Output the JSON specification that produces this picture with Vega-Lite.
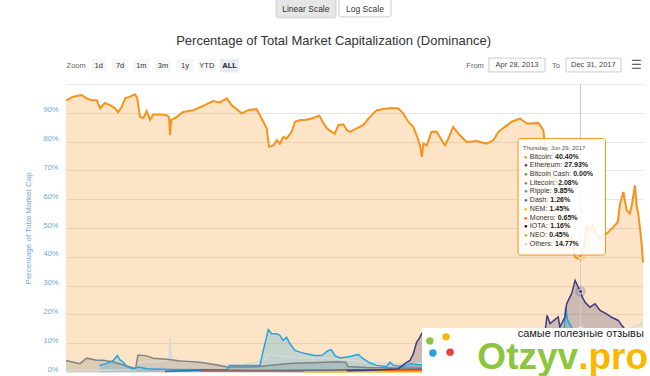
{
  "$schema": "https://vega.github.io/schema/vega-lite/v6.json",
  "width": 577,
  "height": 288,
  "autosize": {"type": "none"},
  "padding": {"left": 66, "top": 84, "right": 7, "bottom": 4},
  "background": "white",
  "resolve": {"axis": {"y": "independent"}},
  "config": {
    "view": {"stroke": null},
    "font": "Liberation Sans, Arial, sans-serif",
    "axisY": {"labelColor": "#6fa7e0", "labelFontSize": 7.5, "labelPadding": 8, "labelOffset": -3,
              "titleColor": "#6fa7e0", "titleFontSize": 8, "titleFontWeight": "normal", "titlePadding": 10,
              "domain": false, "ticks": false, "gridColor": "#e6e6e6", "gridWidth": 1,
              "labelOverlap": false}
  },
  "datasets": {
    "series": [
      {"d":"2013-04-28","s":"Bitcoin","v":94.2},{"d":"2013-05-19","s":"Bitcoin","v":95.6},{"d":"2013-06-13","s":"Bitcoin","v":96.2},{"d":"2013-06-28","s":"Bitcoin","v":95.0},{"d":"2013-07-13","s":"Bitcoin","v":94.4},{"d":"2013-07-28","s":"Bitcoin","v":94.4},{"d":"2013-08-07","s":"Bitcoin","v":91.6},{"d":"2013-08-21","s":"Bitcoin","v":93.4},{"d":"2013-09-05","s":"Bitcoin","v":92.7},{"d":"2013-09-20","s":"Bitcoin","v":91.6},{"d":"2013-09-29","s":"Bitcoin","v":90.2},{"d":"2013-10-10","s":"Bitcoin","v":92.1},{"d":"2013-10-20","s":"Bitcoin","v":95.0},{"d":"2013-11-03","s":"Bitcoin","v":95.6},{"d":"2013-11-18","s":"Bitcoin","v":96.4},{"d":"2013-11-25","s":"Bitcoin","v":95.1},{"d":"2013-12-03","s":"Bitcoin","v":88.6},{"d":"2013-12-13","s":"Bitcoin","v":88.2},{"d":"2013-12-23","s":"Bitcoin","v":90.6},{"d":"2014-01-02","s":"Bitcoin","v":87.5},{"d":"2014-01-11","s":"Bitcoin","v":89.4},{"d":"2014-01-31","s":"Bitcoin","v":89.4},{"d":"2014-02-20","s":"Bitcoin","v":89.2},{"d":"2014-02-27","s":"Bitcoin","v":88.5},{"d":"2014-03-02","s":"Bitcoin","v":82.2},{"d":"2014-03-05","s":"Bitcoin","v":87.5},{"d":"2014-03-22","s":"Bitcoin","v":88.6},{"d":"2014-04-10","s":"Bitcoin","v":90.3},{"d":"2014-05-10","s":"Bitcoin","v":90.9},{"d":"2014-06-08","s":"Bitcoin","v":92.4},{"d":"2014-07-08","s":"Bitcoin","v":94.1},{"d":"2014-07-28","s":"Bitcoin","v":93.6},{"d":"2014-08-17","s":"Bitcoin","v":95.0},{"d":"2014-08-31","s":"Bitcoin","v":92.7},{"d":"2014-09-30","s":"Bitcoin","v":89.8},{"d":"2014-10-20","s":"Bitcoin","v":90.9},{"d":"2014-11-13","s":"Bitcoin","v":91.3},{"d":"2014-11-23","s":"Bitcoin","v":89.2},{"d":"2014-12-03","s":"Bitcoin","v":86.9},{"d":"2014-12-13","s":"Bitcoin","v":84.6},{"d":"2014-12-20","s":"Bitcoin","v":78.2},{"d":"2015-01-02","s":"Bitcoin","v":78.7},{"d":"2015-01-12","s":"Bitcoin","v":80.5},{"d":"2015-01-21","s":"Bitcoin","v":79.3},{"d":"2015-01-31","s":"Bitcoin","v":81.6},{"d":"2015-02-10","s":"Bitcoin","v":81.1},{"d":"2015-02-25","s":"Bitcoin","v":83.4},{"d":"2015-03-07","s":"Bitcoin","v":86.9},{"d":"2015-03-22","s":"Bitcoin","v":87.5},{"d":"2015-04-05","s":"Bitcoin","v":87.5},{"d":"2015-04-25","s":"Bitcoin","v":88.0},{"d":"2015-05-18","s":"Bitcoin","v":89.0},{"d":"2015-05-25","s":"Bitcoin","v":87.5},{"d":"2015-06-09","s":"Bitcoin","v":84.6},{"d":"2015-06-23","s":"Bitcoin","v":83.4},{"d":"2015-07-03","s":"Bitcoin","v":82.8},{"d":"2015-07-13","s":"Bitcoin","v":85.7},{"d":"2015-07-28","s":"Bitcoin","v":86.0},{"d":"2015-08-07","s":"Bitcoin","v":84.0},{"d":"2015-08-17","s":"Bitcoin","v":83.4},{"d":"2015-09-05","s":"Bitcoin","v":84.6},{"d":"2015-09-25","s":"Bitcoin","v":85.7},{"d":"2015-10-10","s":"Bitcoin","v":88.0},{"d":"2015-10-25","s":"Bitcoin","v":89.8},{"d":"2015-11-04","s":"Bitcoin","v":90.9},{"d":"2015-11-23","s":"Bitcoin","v":91.3},{"d":"2015-12-18","s":"Bitcoin","v":91.7},{"d":"2016-01-07","s":"Bitcoin","v":91.5},{"d":"2016-01-21","s":"Bitcoin","v":89.8},{"d":"2016-02-05","s":"Bitcoin","v":86.9},{"d":"2016-02-20","s":"Bitcoin","v":85.1},{"d":"2016-03-01","s":"Bitcoin","v":82.2},{"d":"2016-03-11","s":"Bitcoin","v":78.7},{"d":"2016-03-16","s":"Bitcoin","v":74.7},{"d":"2016-03-21","s":"Bitcoin","v":79.3},{"d":"2016-03-31","s":"Bitcoin","v":78.7},{"d":"2016-04-14","s":"Bitcoin","v":83.4},{"d":"2016-04-29","s":"Bitcoin","v":83.5},{"d":"2016-05-14","s":"Bitcoin","v":80.5},{"d":"2016-05-24","s":"Bitcoin","v":78.7},{"d":"2016-06-03","s":"Bitcoin","v":81.1},{"d":"2016-06-17","s":"Bitcoin","v":85.1},{"d":"2016-07-07","s":"Bitcoin","v":82.2},{"d":"2016-07-27","s":"Bitcoin","v":79.9},{"d":"2016-08-26","s":"Bitcoin","v":80.2},{"d":"2016-09-24","s":"Bitcoin","v":79.3},{"d":"2016-10-14","s":"Bitcoin","v":80.5},{"d":"2016-10-29","s":"Bitcoin","v":83.4},{"d":"2016-11-17","s":"Bitcoin","v":85.1},{"d":"2016-12-07","s":"Bitcoin","v":86.9},{"d":"2017-01-01","s":"Bitcoin","v":88.0},{"d":"2017-01-21","s":"Bitcoin","v":86.3},{"d":"2017-02-04","s":"Bitcoin","v":86.3},{"d":"2017-02-24","s":"Bitcoin","v":86.5},{"d":"2017-03-01","s":"Bitcoin","v":85.7},{"d":"2017-03-11","s":"Bitcoin","v":84.0},{"d":"2017-03-16","s":"Bitcoin","v":78.2},{"d":"2017-03-22","s":"Bitcoin","v":72.0},{"d":"2017-04-01","s":"Bitcoin","v":68.0},{"d":"2017-04-15","s":"Bitcoin","v":67.0},{"d":"2017-04-28","s":"Bitcoin","v":65.0},{"d":"2017-05-10","s":"Bitcoin","v":58.0},{"d":"2017-05-17","s":"Bitcoin","v":50.0},{"d":"2017-05-25","s":"Bitcoin","v":46.0},{"d":"2017-06-03","s":"Bitcoin","v":47.0},{"d":"2017-06-13","s":"Bitcoin","v":40.0},{"d":"2017-06-20","s":"Bitcoin","v":39.5},{"d":"2017-06-29","s":"Bitcoin","v":40.4},{"d":"2017-07-10","s":"Bitcoin","v":44.0},{"d":"2017-07-17","s":"Bitcoin","v":50.3},{"d":"2017-07-27","s":"Bitcoin","v":49.0},{"d":"2017-08-05","s":"Bitcoin","v":51.0},{"d":"2017-08-15","s":"Bitcoin","v":48.0},{"d":"2017-08-26","s":"Bitcoin","v":46.0},{"d":"2017-09-05","s":"Bitcoin","v":48.0},{"d":"2017-09-14","s":"Bitcoin","v":48.0},{"d":"2017-10-04","s":"Bitcoin","v":50.3},{"d":"2017-10-17","s":"Bitcoin","v":52.0},{"d":"2017-10-24","s":"Bitcoin","v":58.4},{"d":"2017-11-03","s":"Bitcoin","v":62.5},{"d":"2017-11-08","s":"Bitcoin","v":59.0},{"d":"2017-11-13","s":"Bitcoin","v":56.1},{"d":"2017-11-22","s":"Bitcoin","v":55.0},{"d":"2017-11-28","s":"Bitcoin","v":58.0},{"d":"2017-12-07","s":"Bitcoin","v":64.8},{"d":"2017-12-12","s":"Bitcoin","v":58.0},{"d":"2017-12-17","s":"Bitcoin","v":55.0},{"d":"2017-12-22","s":"Bitcoin","v":50.0},{"d":"2017-12-27","s":"Bitcoin","v":44.5},{"d":"2017-12-31","s":"Bitcoin","v":38.0},

      {"d":"2013-04-28","s":"Others","v":0.5},{"d":"2013-11-20","s":"Others","v":0.7},{"d":"2013-11-28","s":"Others","v":3.3},{"d":"2014-01-10","s":"Others","v":3.5},{"d":"2014-02-10","s":"Others","v":3.8},{"d":"2014-02-27","s":"Others","v":4.3},{"d":"2014-03-02","s":"Others","v":12.0},{"d":"2014-03-06","s":"Others","v":4.5},{"d":"2014-04-10","s":"Others","v":3.6},{"d":"2014-06-01","s":"Others","v":3.3},{"d":"2014-08-01","s":"Others","v":2.5},{"d":"2014-10-01","s":"Others","v":2.3},{"d":"2014-11-20","s":"Others","v":3.8},{"d":"2014-12-10","s":"Others","v":4.5},{"d":"2014-12-20","s":"Others","v":6.3},{"d":"2015-01-05","s":"Others","v":5.7},{"d":"2015-03-01","s":"Others","v":5.0},{"d":"2015-06-01","s":"Others","v":4.9},{"d":"2015-08-01","s":"Others","v":4.3},{"d":"2015-10-01","s":"Others","v":3.4},{"d":"2015-12-01","s":"Others","v":3.0},{"d":"2016-02-01","s":"Others","v":2.8},{"d":"2016-06-01","s":"Others","v":3.5},{"d":"2016-12-01","s":"Others","v":3.0},{"d":"2017-03-01","s":"Others","v":5.0},{"d":"2017-05-01","s":"Others","v":10.0},{"d":"2017-06-29","s":"Others","v":14.77},{"d":"2017-09-01","s":"Others","v":15.0},{"d":"2017-11-01","s":"Others","v":14.0},{"d":"2017-12-31","s":"Others","v":17.0},

      {"d":"2013-04-28","s":"Litecoin","v":4.0},{"d":"2013-06-08","s":"Litecoin","v":2.9},{"d":"2013-06-28","s":"Litecoin","v":4.8},{"d":"2013-07-28","s":"Litecoin","v":4.1},{"d":"2013-08-16","s":"Litecoin","v":4.1},{"d":"2013-09-15","s":"Litecoin","v":3.5},{"d":"2013-10-25","s":"Litecoin","v":2.1},{"d":"2013-11-20","s":"Litecoin","v":1.2},{"d":"2013-11-27","s":"Litecoin","v":5.9},{"d":"2013-12-23","s":"Litecoin","v":5.6},{"d":"2014-01-11","s":"Litecoin","v":4.8},{"d":"2014-02-20","s":"Litecoin","v":4.4},{"d":"2014-03-31","s":"Litecoin","v":3.8},{"d":"2014-05-10","s":"Litecoin","v":3.6},{"d":"2014-06-08","s":"Litecoin","v":3.2},{"d":"2014-07-18","s":"Litecoin","v":2.4},{"d":"2014-08-17","s":"Litecoin","v":1.7},{"d":"2014-10-15","s":"Litecoin","v":1.7},{"d":"2014-11-15","s":"Litecoin","v":1.8},{"d":"2015-01-10","s":"Litecoin","v":2.5},{"d":"2015-03-01","s":"Litecoin","v":3.0},{"d":"2015-05-01","s":"Litecoin","v":3.2},{"d":"2015-07-10","s":"Litecoin","v":3.6},{"d":"2015-08-05","s":"Litecoin","v":3.3},{"d":"2015-08-10","s":"Litecoin","v":1.9},{"d":"2015-10-01","s":"Litecoin","v":1.6},{"d":"2016-01-01","s":"Litecoin","v":1.4},{"d":"2016-04-01","s":"Litecoin","v":1.3},{"d":"2016-07-01","s":"Litecoin","v":1.3},{"d":"2016-10-01","s":"Litecoin","v":1.5},{"d":"2017-01-01","s":"Litecoin","v":1.8},{"d":"2017-03-15","s":"Litecoin","v":2.3},{"d":"2017-05-01","s":"Litecoin","v":3.5},{"d":"2017-06-29","s":"Litecoin","v":2.08},{"d":"2017-09-01","s":"Litecoin","v":3.0},{"d":"2017-11-01","s":"Litecoin","v":2.0},{"d":"2017-12-15","s":"Litecoin","v":3.1},{"d":"2017-12-31","s":"Litecoin","v":2.5},

      {"d":"2013-08-05","s":"Ripple","v":2.3},{"d":"2013-08-26","s":"Ripple","v":2.9},{"d":"2013-09-15","s":"Ripple","v":4.0},{"d":"2013-09-27","s":"Ripple","v":5.7},{"d":"2013-10-05","s":"Ripple","v":4.2},{"d":"2013-10-15","s":"Ripple","v":3.4},{"d":"2013-10-25","s":"Ripple","v":1.9},{"d":"2013-11-13","s":"Ripple","v":1.1},{"d":"2013-11-28","s":"Ripple","v":1.7},{"d":"2013-12-23","s":"Ripple","v":1.1},{"d":"2014-03-01","s":"Ripple","v":0.9},{"d":"2014-08-17","s":"Ripple","v":0.8},{"d":"2014-08-26","s":"Ripple","v":2.3},{"d":"2014-11-23","s":"Ripple","v":2.3},{"d":"2014-12-03","s":"Ripple","v":7.5},{"d":"2014-12-18","s":"Ripple","v":14.7},{"d":"2014-12-28","s":"Ripple","v":13.3},{"d":"2015-01-12","s":"Ripple","v":13.3},{"d":"2015-01-21","s":"Ripple","v":12.7},{"d":"2015-01-31","s":"Ripple","v":11.0},{"d":"2015-02-10","s":"Ripple","v":12.1},{"d":"2015-02-20","s":"Ripple","v":9.8},{"d":"2015-03-07","s":"Ripple","v":7.5},{"d":"2015-03-22","s":"Ripple","v":6.9},{"d":"2015-04-10","s":"Ripple","v":6.3},{"d":"2015-05-05","s":"Ripple","v":5.7},{"d":"2015-05-25","s":"Ripple","v":5.7},{"d":"2015-06-13","s":"Ripple","v":7.5},{"d":"2015-06-23","s":"Ripple","v":7.7},{"d":"2015-07-03","s":"Ripple","v":5.7},{"d":"2015-07-18","s":"Ripple","v":4.9},{"d":"2015-08-17","s":"Ripple","v":5.4},{"d":"2015-09-10","s":"Ripple","v":6.1},{"d":"2015-09-25","s":"Ripple","v":4.6},{"d":"2015-10-15","s":"Ripple","v":3.1},{"d":"2015-11-04","s":"Ripple","v":2.3},{"d":"2015-12-03","s":"Ripple","v":1.9},{"d":"2015-12-13","s":"Ripple","v":3.4},{"d":"2015-12-23","s":"Ripple","v":2.3},{"d":"2016-01-21","s":"Ripple","v":1.9},{"d":"2016-02-10","s":"Ripple","v":2.9},{"d":"2016-04-01","s":"Ripple","v":2.3},{"d":"2016-07-01","s":"Ripple","v":2.0},{"d":"2016-10-01","s":"Ripple","v":1.8},{"d":"2017-01-01","s":"Ripple","v":1.3},{"d":"2017-03-20","s":"Ripple","v":3.5},{"d":"2017-04-05","s":"Ripple","v":8.0},{"d":"2017-04-25","s":"Ripple","v":6.0},{"d":"2017-05-10","s":"Ripple","v":12.0},{"d":"2017-05-16","s":"Ripple","v":22.5},{"d":"2017-05-22","s":"Ripple","v":18.0},{"d":"2017-06-05","s":"Ripple","v":15.0},{"d":"2017-06-29","s":"Ripple","v":9.85},{"d":"2017-08-01","s":"Ripple","v":8.5},{"d":"2017-09-10","s":"Ripple","v":6.8},{"d":"2017-10-15","s":"Ripple","v":7.0},{"d":"2017-11-15","s":"Ripple","v":5.5},{"d":"2017-12-20","s":"Ripple","v":9.0},{"d":"2017-12-31","s":"Ripple","v":12.0},

      {"d":"2014-02-15","s":"Dash","v":0.2},{"d":"2014-06-01","s":"Dash","v":0.7},{"d":"2014-12-01","s":"Dash","v":0.5},{"d":"2015-06-01","s":"Dash","v":0.6},{"d":"2015-09-01","s":"Dash","v":0.8},{"d":"2016-01-01","s":"Dash","v":0.6},{"d":"2016-03-01","s":"Dash","v":0.9},{"d":"2016-06-01","s":"Dash","v":0.8},{"d":"2016-12-01","s":"Dash","v":0.6},{"d":"2017-03-20","s":"Dash","v":1.5},{"d":"2017-06-29","s":"Dash","v":1.26},{"d":"2017-09-01","s":"Dash","v":1.7},{"d":"2017-12-31","s":"Dash","v":1.5},

      {"d":"2014-06-01","s":"Monero","v":0.3},{"d":"2015-06-01","s":"Monero","v":0.2},{"d":"2016-09-01","s":"Monero","v":0.8},{"d":"2017-01-01","s":"Monero","v":1.1},{"d":"2017-06-29","s":"Monero","v":0.65},{"d":"2017-12-31","s":"Monero","v":0.9},

      {"d":"2015-04-01","s":"NEM","v":0.05},{"d":"2016-06-01","s":"NEM","v":0.1},{"d":"2017-03-01","s":"NEM","v":0.4},{"d":"2017-06-29","s":"NEM","v":1.45},{"d":"2017-12-31","s":"NEM","v":1.4},

      {"d":"2017-06-13","s":"IOTA","v":0.8},{"d":"2017-06-29","s":"IOTA","v":1.16},{"d":"2017-12-31","s":"IOTA","v":1.5},

      {"d":"2017-06-01","s":"NEO","v":0.1},{"d":"2017-06-29","s":"NEO","v":0.45},{"d":"2017-12-31","s":"NEO","v":0.6},

      {"d":"2017-06-29","s":"Bitcoin Cash","v":0.0},{"d":"2017-07-31","s":"Bitcoin Cash","v":0.0},{"d":"2017-08-02","s":"Bitcoin Cash","v":4.5},{"d":"2017-08-20","s":"Bitcoin Cash","v":6.5},{"d":"2017-09-15","s":"Bitcoin Cash","v":5.0},{"d":"2017-11-12","s":"Bitcoin Cash","v":12.0},{"d":"2017-11-20","s":"Bitcoin Cash","v":8.0},{"d":"2017-12-20","s":"Bitcoin Cash","v":9.0},{"d":"2017-12-31","s":"Bitcoin Cash","v":7.5},

      {"d":"2015-08-08","s":"Ethereum","v":0.4},{"d":"2015-10-15","s":"Ethereum","v":0.6},{"d":"2016-01-05","s":"Ethereum","v":1.0},{"d":"2016-01-26","s":"Ethereum","v":2.9},{"d":"2016-02-10","s":"Ethereum","v":4.0},{"d":"2016-02-20","s":"Ethereum","v":6.3},{"d":"2016-03-01","s":"Ethereum","v":10.4},{"d":"2016-03-08","s":"Ethereum","v":11.5},{"d":"2016-03-16","s":"Ethereum","v":13.3},{"d":"2016-04-01","s":"Ethereum","v":11.0},{"d":"2016-05-01","s":"Ethereum","v":8.5},{"d":"2016-06-15","s":"Ethereum","v":14.0},{"d":"2016-06-22","s":"Ethereum","v":10.5},{"d":"2016-07-25","s":"Ethereum","v":12.0},{"d":"2016-09-01","s":"Ethereum","v":9.0},{"d":"2016-11-01","s":"Ethereum","v":6.0},{"d":"2017-01-01","s":"Ethereum","v":5.5},{"d":"2017-02-15","s":"Ethereum","v":6.0},{"d":"2017-03-05","s":"Ethereum","v":8.0},{"d":"2017-03-14","s":"Ethereum","v":12.0},{"d":"2017-03-22","s":"Ethereum","v":19.7},{"d":"2017-03-31","s":"Ethereum","v":16.8},{"d":"2017-04-24","s":"Ethereum","v":19.1},{"d":"2017-04-29","s":"Ethereum","v":15.6},{"d":"2017-05-14","s":"Ethereum","v":19.1},{"d":"2017-05-19","s":"Ethereum","v":23.7},{"d":"2017-06-03","s":"Ethereum","v":27.3},{"d":"2017-06-13","s":"Ethereum","v":31.8},{"d":"2017-06-22","s":"Ethereum","v":29.5},{"d":"2017-06-29","s":"Ethereum","v":27.93},{"d":"2017-07-02","s":"Ethereum","v":26.6},{"d":"2017-07-12","s":"Ethereum","v":24.3},{"d":"2017-07-27","s":"Ethereum","v":22.5},{"d":"2017-08-11","s":"Ethereum","v":23.7},{"d":"2017-08-26","s":"Ethereum","v":21.4},{"d":"2017-09-14","s":"Ethereum","v":20.2},{"d":"2017-09-29","s":"Ethereum","v":19.0},{"d":"2017-10-19","s":"Ethereum","v":17.9},{"d":"2017-10-29","s":"Ethereum","v":16.2},{"d":"2017-11-20","s":"Ethereum","v":13.0},{"d":"2017-12-10","s":"Ethereum","v":9.5},{"d":"2017-12-31","s":"Ethereum","v":12.0}
    ],
    "tip": [
      {"s":"Bitcoin","val":40.40},{"s":"Ethereum","val":27.93},{"s":"Bitcoin Cash","val":0.00},{"s":"Litecoin","val":2.08},{"s":"Ripple","val":9.85},{"s":"Dash","val":1.26},{"s":"NEM","val":1.45},{"s":"Monero","val":0.65},{"s":"IOTA","val":1.16},{"s":"NEO","val":0.45},{"s":"Others","val":14.77}
    ],
    "one": [{}]
  },
  "layer": [
    {
      "data": {"name": "series"},
      "transform": [{"filter": "datum.s === 'Bitcoin'"}],
      "mark": {"type": "area", "color": "#f7931a", "fillOpacity": 0.25},
      "encoding": {
        "x": {"field": "d", "type": "temporal", "axis": null,
              "scale": {"domain": [{"year": 2013, "month": 4, "date": 28}, {"year": 2017, "month": 12, "date": 31}]}},
        "y": {"field": "v", "type": "quantitative", "stack": null,
              "scale": {"domain": [0, 100], "nice": false},
              "axis": {"title": "Percentage of Total Market Cap", "values": [0,10,20,30,40,50,60,70,80,90,100],
                       "labelExpr": "datum.value >= 100 ? '' : datum.value + '%'"}}
      }
    },
    {
      "data": {"name": "series"},
      "transform": [{"filter": "datum.s === 'Bitcoin'"}],
      "mark": {"type": "line", "color": "#f7931a", "strokeWidth": 2},
      "encoding": {
        "x": {"field": "d", "type": "temporal", "axis": null},
        "y": {"field": "v", "type": "quantitative", "axis": null}
      }
    },
    {
      "data": {"name": "series"},
      "transform": [{"filter": "datum.s !== 'Bitcoin'"}],
      "mark": {"type": "area", "fillOpacity": 0.25},
      "encoding": {
        "x": {"field": "d", "type": "temporal", "axis": null},
        "y": {"field": "v", "type": "quantitative", "stack": null, "axis": null},
        "color": {"field": "s", "type": "nominal", "legend": null,
                  "scale": {"domain": ["Bitcoin","Ethereum","Bitcoin Cash","Litecoin","Ripple","Dash","NEM","Monero","IOTA","NEO","Others"],
                            "range": ["#f7931a","#3c3c7d","#3aa53a","#838383","#27a3dd","#1c75bc","#f5c000","#ff6000","#000000","#88d018","#d9d9d9"]}}
      }
    },
    {
      "data": {"name": "series"},
      "transform": [{"filter": "datum.s !== 'Bitcoin'"}],
      "mark": {"type": "line", "strokeWidth": 1.5},
      "encoding": {
        "x": {"field": "d", "type": "temporal", "axis": null},
        "y": {"field": "v", "type": "quantitative", "axis": null},
        "color": {"field": "s", "type": "nominal", "legend": null}
      }
    },
    {
      "data": {"name": "one"},
      "mark": {"type": "rule", "color": "#cccccc", "strokeWidth": 1},
      "encoding": {"x": {"datum": {"year": 2017, "month": 6, "date": 29}, "type": "temporal", "axis": null}}
    },
    {
      "data": {"name": "tip"},
      "mark": {"type": "point", "filled": true, "size": 110, "opacity": 0.25},
      "encoding": {
        "x": {"datum": {"year": 2017, "month": 6, "date": 29}, "type": "temporal", "axis": null},
        "y": {"field": "val", "type": "quantitative", "axis": null},
        "color": {"field": "s", "type": "nominal", "legend": null}
      }
    },
    {
      "data": {"name": "tip"},
      "mark": {"type": "point", "filled": true, "size": 18, "opacity": 1, "stroke": "white", "strokeWidth": 0.8},
      "encoding": {
        "x": {"datum": {"year": 2017, "month": 6, "date": 29}, "type": "temporal", "axis": null},
        "y": {"field": "val", "type": "quantitative", "axis": null},
        "color": {"field": "s", "type": "nominal", "legend": null}
      }
    },
    {
      "data": {"name": "one"},
      "mark": {"type": "rect", "fill": "white", "clip": false},
      "encoding": {
        "x": {"datum": {"year": 2016, "month": 3, "date": 17}, "type": "temporal", "axis": null},
        "x2": {"datum": {"year": 2018, "month": 1, "date": 25}},
        "y": {"datum": 15.3, "axis": null}, "y2": {"datum": -1.6}
      }
    },
    {
      "data": {"name": "one"},
      "mark": {"type": "text", "text": "самые полезные отзывы", "align": "left", "baseline": "alphabetic", "fontSize": 11, "color": "#222222", "clip": false},
      "encoding": {"x": {"datum": {"year": 2016, "month": 12, "date": 25}, "type": "temporal", "axis": null}, "y": {"datum": 12.3, "axis": null}}
    },
    {
      "data": {"name": "one"},
      "mark": {"type": "text", "text": "Otzyv", "align": "right", "baseline": "alphabetic", "fontSize": 37, "fontWeight": "bold", "color": "#8cc63e", "clip": false},
      "encoding": {"x": {"datum": {"year": 2017, "month": 6, "date": 22}, "type": "temporal", "axis": null}, "y": {"datum": 1.0, "axis": null}}
    },
    {
      "data": {"name": "one"},
      "mark": {"type": "text", "text": ".pro", "align": "left", "baseline": "alphabetic", "fontSize": 37, "fontWeight": "bold", "color": "#fbb700", "clip": false},
      "encoding": {"x": {"datum": {"year": 2017, "month": 6, "date": 22}, "type": "temporal", "axis": null}, "y": {"datum": 1.0, "axis": null}}
    },
    {
      "data": {"name": "one"},
      "mark": {"type": "point", "filled": true, "size": 55, "color": "#8cc63e", "opacity": 1, "clip": false},
      "encoding": {"x": {"datum": {"year": 2016, "month": 4, "date": 9}, "type": "temporal", "axis": null}, "y": {"datum": 10.8, "axis": null}}
    },
    {
      "data": {"name": "one"},
      "mark": {"type": "point", "filled": true, "size": 55, "color": "#fbb700", "opacity": 1, "clip": false},
      "encoding": {"x": {"datum": {"year": 2016, "month": 5, "date": 27}, "type": "temporal", "axis": null}, "y": {"datum": 12.2, "axis": null}}
    },
    {
      "data": {"name": "one"},
      "mark": {"type": "point", "filled": true, "size": 55, "color": "#27a3dd", "opacity": 1, "clip": false},
      "encoding": {"x": {"datum": {"year": 2016, "month": 4, "date": 18}, "type": "temporal", "axis": null}, "y": {"datum": 6.6, "axis": null}}
    },
    {
      "data": {"name": "one"},
      "mark": {"type": "point", "filled": true, "size": 55, "color": "#e8403a", "opacity": 1, "clip": false},
      "encoding": {"x": {"datum": {"year": 2016, "month": 6, "date": 8}, "type": "temporal", "axis": null}, "y": {"datum": 6.9, "axis": null}}
    },
    {
      "data": {"name": "one"},
      "mark": {"type": "rect", "fill": "white", "fillOpacity": 0.85, "stroke": "#f7931a", "strokeWidth": 1, "cornerRadius": 3, "clip": false},
      "encoding": {
        "x": {"datum": {"year": 2016, "month": 12, "date": 26}, "type": "temporal", "axis": null},
        "x2": {"datum": {"year": 2017, "month": 9, "date": 11}},
        "y": {"datum": 81.1, "axis": null}, "y2": {"datum": 40.6}
      }
    },
    {
      "data": {"name": "one"},
      "mark": {"type": "text", "text": "Thursday, Jun 29, 2017", "align": "left", "baseline": "middle", "fontSize": 6, "color": "#555555", "clip": false},
      "encoding": {"x": {"datum": {"year": 2017, "month": 1, "date": 9}, "type": "temporal", "axis": null}, "y": {"datum": 77.7, "axis": null}}
    },
    {
      "data": {"name": "tip"},
      "transform": [{"window": [{"op": "row_number", "as": "rn"}]}],
      "mark": {"type": "text", "text": "●", "align": "center", "baseline": "middle", "fontSize": 6, "clip": false,
               "dy": {"expr": "(datum.rn - 1) * 8.72"}},
      "encoding": {
        "x": {"datum": {"year": 2017, "month": 1, "date": 18}, "type": "temporal", "axis": null},
        "y": {"datum": 74.8, "axis": null},
        "color": {"field": "s", "type": "nominal", "legend": null}
      }
    },
    {
      "data": {"name": "tip"},
      "transform": [{"window": [{"op": "row_number", "as": "rn"}]}, {"calculate": "datum.s + ':'", "as": "nm"}],
      "mark": {"type": "text", "align": "left", "baseline": "middle", "fontSize": 7, "color": "#333333", "clip": false,
               "dy": {"expr": "(datum.rn - 1) * 8.72"}},
      "encoding": {
        "x": {"datum": {"year": 2017, "month": 1, "date": 30}, "type": "temporal", "axis": null},
        "y": {"datum": 74.8, "axis": null},
        "text": {"field": "nm"}
      }
    },
    {
      "data": {"name": "tip"},
      "transform": [{"window": [{"op": "row_number", "as": "rn"}]}, {"calculate": "format(datum.val, '.2f') + '%'", "as": "vt"}],
      "mark": {"type": "text", "align": "left", "baseline": "middle", "fontSize": 7, "fontWeight": "bold", "color": "#222222", "clip": false,
               "dy": {"expr": "(datum.rn - 1) * 8.72"},
               "dx": {"expr": "({'Bitcoin': 23.0, 'Ethereum': 32.3, 'Bitcoin Cash': 41.2, 'Litecoin': 26.1, 'Ripple': 21.8, 'Dash': 18.3, 'NEM': 17.5, 'Monero': 25.7, 'IOTA': 18.3, 'NEO': 17.1, 'Others': 23.0})[datum.s] + 2.2"}},
      "encoding": {
        "x": {"datum": {"year": 2017, "month": 1, "date": 30}, "type": "temporal", "axis": null},
        "y": {"datum": 74.8, "axis": null},
        "text": {"field": "vt"}
      }
    },
    {
      "data": {"name": "one"},
      "mark": {"type": "text", "text": "Percentage of Total Market Capitalization (Dominance)", "align": "center", "baseline": "middle", "fontSize": 13, "color": "#333333", "clip": false},
      "encoding": {"x": {"datum": {"year": 2015, "month": 6, "date": 29}, "type": "temporal", "axis": null}, "y": {"datum": 115.1, "axis": null}}
    },
    {
      "data": {"name": "one"},
      "mark": {"type": "rect", "fill": "#e6e6e6", "stroke": "#cccccc", "strokeWidth": 1, "cornerRadius": 2, "clip": false},
      "encoding": {"x": {"datum": {"year": 2015, "month": 1, "date": 10}, "type": "temporal", "axis": null}, "x2": {"datum": {"year": 2015, "month": 7, "date": 6}}, "y": {"datum": 130, "axis": null}, "y2": {"datum": 123.0}}
    },
    {
      "data": {"name": "one"},
      "mark": {"type": "rect", "fill": "#ffffff", "stroke": "#cccccc", "strokeWidth": 1, "cornerRadius": 2, "clip": false},
      "encoding": {"x": {"datum": {"year": 2015, "month": 7, "date": 15}, "type": "temporal", "axis": null}, "x2": {"datum": {"year": 2015, "month": 12, "date": 16}}, "y": {"datum": 130, "axis": null}, "y2": {"datum": 123.3}}
    },
    {
      "data": {"name": "one"},
      "mark": {"type": "text", "text": "Linear Scale", "align": "center", "baseline": "middle", "fontSize": 8.5, "color": "#333333", "clip": false},
      "encoding": {"x": {"datum": {"year": 2015, "month": 4, "date": 8}, "type": "temporal", "axis": null}, "y": {"datum": 126.2, "axis": null}}
    },
    {
      "data": {"name": "one"},
      "mark": {"type": "text", "text": "Log Scale", "align": "center", "baseline": "middle", "fontSize": 8.5, "color": "#333333", "clip": false},
      "encoding": {"x": {"datum": {"year": 2015, "month": 9, "date": 30}, "type": "temporal", "axis": null}, "y": {"datum": 126.2, "axis": null}}
    },
    {
      "data": {"name": "one"},
      "mark": {"type": "text", "text": "Zoom", "align": "center", "baseline": "middle", "fontSize": 7.5, "color": "#666666", "clip": false},
      "encoding": {"x": {"datum": {"year": 2013, "month": 5, "date": 28}, "type": "temporal", "axis": null}, "y": {"datum": 106.4, "axis": null}}
    },
    {
      "data": {"name": "one"},
      "mark": {"type": "rect", "fill": "#f7f7f7", "clip": false},
      "encoding": {"x": {"datum": {"year": 2013, "month": 7, "date": 13}, "type": "temporal", "axis": null}, "x2": {"datum": {"year": 2013, "month": 8, "date": 24}}, "y": {"datum": 108.7, "axis": null}, "y2": {"datum": 104.0}}
    },
    {
      "data": {"name": "one"},
      "mark": {"type": "rect", "fill": "#f7f7f7", "clip": false},
      "encoding": {"x": {"datum": {"year": 2013, "month": 9, "date": 11}, "type": "temporal", "axis": null}, "x2": {"datum": {"year": 2013, "month": 10, "date": 29}}, "y": {"datum": 108.7, "axis": null}, "y2": {"datum": 104.0}}
    },
    {
      "data": {"name": "one"},
      "mark": {"type": "rect", "fill": "#f7f7f7", "clip": false},
      "encoding": {"x": {"datum": {"year": 2013, "month": 11, "date": 13}, "type": "temporal", "axis": null}, "x2": {"datum": {"year": 2014, "month": 1, "date": 1}}, "y": {"datum": 108.7, "axis": null}, "y2": {"datum": 104.0}}
    },
    {
      "data": {"name": "one"},
      "mark": {"type": "rect", "fill": "#f7f7f7", "clip": false},
      "encoding": {"x": {"datum": {"year": 2014, "month": 1, "date": 16}, "type": "temporal", "axis": null}, "x2": {"datum": {"year": 2014, "month": 3, "date": 4}}, "y": {"datum": 108.7, "axis": null}, "y2": {"datum": 104.0}}
    },
    {
      "data": {"name": "one"},
      "mark": {"type": "rect", "fill": "#f7f7f7", "clip": false},
      "encoding": {"x": {"datum": {"year": 2014, "month": 3, "date": 20}, "type": "temporal", "axis": null}, "x2": {"datum": {"year": 2014, "month": 5, "date": 11}}, "y": {"datum": 108.7, "axis": null}, "y2": {"datum": 104.0}}
    },
    {
      "data": {"name": "one"},
      "mark": {"type": "rect", "fill": "#f7f7f7", "clip": false},
      "encoding": {"x": {"datum": {"year": 2014, "month": 5, "date": 24}, "type": "temporal", "axis": null}, "x2": {"datum": {"year": 2014, "month": 7, "date": 16}}, "y": {"datum": 108.7, "axis": null}, "y2": {"datum": 104.0}}
    },
    {
      "data": {"name": "one"},
      "mark": {"type": "rect", "fill": "#e6ebf5", "clip": false},
      "encoding": {"x": {"datum": {"year": 2014, "month": 7, "date": 28}, "type": "temporal", "axis": null}, "x2": {"datum": {"year": 2014, "month": 9, "date": 21}}, "y": {"datum": 108.7, "axis": null}, "y2": {"datum": 104.0}}
    },
    {
      "data": {"name": "one"},
      "mark": {"type": "text", "text": "1d", "align": "center", "baseline": "middle", "fontSize": 7.5, "color": "#333333", "clip": false},
      "encoding": {"x": {"datum": {"year": 2013, "month": 8, "date": 3}, "type": "temporal", "axis": null}, "y": {"datum": 106.4, "axis": null}}
    },
    {
      "data": {"name": "one"},
      "mark": {"type": "text", "text": "7d", "align": "center", "baseline": "middle", "fontSize": 7.5, "color": "#333333", "clip": false},
      "encoding": {"x": {"datum": {"year": 2013, "month": 10, "date": 5}, "type": "temporal", "axis": null}, "y": {"datum": 106.4, "axis": null}}
    },
    {
      "data": {"name": "one"},
      "mark": {"type": "text", "text": "1m", "align": "center", "baseline": "middle", "fontSize": 7.5, "color": "#333333", "clip": false},
      "encoding": {"x": {"datum": {"year": 2013, "month": 12, "date": 7}, "type": "temporal", "axis": null}, "y": {"datum": 106.4, "axis": null}}
    },
    {
      "data": {"name": "one"},
      "mark": {"type": "text", "text": "3m", "align": "center", "baseline": "middle", "fontSize": 7.5, "color": "#333333", "clip": false},
      "encoding": {"x": {"datum": {"year": 2014, "month": 2, "date": 9}, "type": "temporal", "axis": null}, "y": {"datum": 106.4, "axis": null}}
    },
    {
      "data": {"name": "one"},
      "mark": {"type": "text", "text": "1y", "align": "center", "baseline": "middle", "fontSize": 7.5, "color": "#333333", "clip": false},
      "encoding": {"x": {"datum": {"year": 2014, "month": 4, "date": 15}, "type": "temporal", "axis": null}, "y": {"datum": 106.4, "axis": null}}
    },
    {
      "data": {"name": "one"},
      "mark": {"type": "text", "text": "YTD", "align": "center", "baseline": "middle", "fontSize": 7.5, "color": "#333333", "clip": false},
      "encoding": {"x": {"datum": {"year": 2014, "month": 6, "date": 19}, "type": "temporal", "axis": null}, "y": {"datum": 106.4, "axis": null}}
    },
    {
      "data": {"name": "one"},
      "mark": {"type": "text", "text": "ALL", "align": "center", "baseline": "middle", "fontSize": 7.5, "fontWeight": "bold", "color": "#222222", "clip": false},
      "encoding": {"x": {"datum": {"year": 2014, "month": 8, "date": 25}, "type": "temporal", "axis": null}, "y": {"datum": 106.4, "axis": null}}
    },
    {
      "data": {"name": "one"},
      "mark": {"type": "text", "text": "From", "align": "center", "baseline": "middle", "fontSize": 7.5, "color": "#666666", "clip": false},
      "encoding": {"x": {"datum": {"year": 2016, "month": 8, "date": 21}, "type": "temporal", "axis": null}, "y": {"datum": 106.4, "axis": null}}
    },
    {
      "data": {"name": "one"},
      "mark": {"type": "rect", "fill": "white", "stroke": "#cccccc", "strokeWidth": 1, "clip": false},
      "encoding": {"x": {"datum": {"year": 2016, "month": 10, "date": 1}, "type": "temporal", "axis": null}, "x2": {"datum": {"year": 2017, "month": 3, "date": 16}}, "y": {"datum": 109.0, "axis": null}, "y2": {"datum": 104.2}}
    },
    {
      "data": {"name": "one"},
      "mark": {"type": "text", "text": "Apr 28, 2013", "align": "center", "baseline": "middle", "fontSize": 7.5, "color": "#444444", "clip": false},
      "encoding": {"x": {"datum": {"year": 2016, "month": 12, "date": 23}, "type": "temporal", "axis": null}, "y": {"datum": 106.5, "axis": null}}
    },
    {
      "data": {"name": "one"},
      "mark": {"type": "text", "text": "To", "align": "center", "baseline": "middle", "fontSize": 7.5, "color": "#666666", "clip": false},
      "encoding": {"x": {"datum": {"year": 2017, "month": 4, "date": 17}, "type": "temporal", "axis": null}, "y": {"datum": 106.4, "axis": null}}
    },
    {
      "data": {"name": "one"},
      "mark": {"type": "rect", "fill": "white", "stroke": "#cccccc", "strokeWidth": 1, "clip": false},
      "encoding": {"x": {"datum": {"year": 2017, "month": 5, "date": 17}, "type": "temporal", "axis": null}, "x2": {"datum": {"year": 2017, "month": 10, "date": 27}}, "y": {"datum": 109.0, "axis": null}, "y2": {"datum": 104.2}}
    },
    {
      "data": {"name": "one"},
      "mark": {"type": "text", "text": "Dec 31, 2017", "align": "center", "baseline": "middle", "fontSize": 7.5, "color": "#444444", "clip": false},
      "encoding": {"x": {"datum": {"year": 2017, "month": 8, "date": 6}, "type": "temporal", "axis": null}, "y": {"datum": 106.5, "axis": null}}
    },
    {
      "data": {"name": "one"},
      "mark": {"type": "text", "text": "☰", "align": "center", "baseline": "middle", "fontSize": 12, "color": "#666666", "clip": false},
      "encoding": {"x": {"datum": {"year": 2017, "month": 12, "date": 13}, "type": "temporal", "axis": null}, "y": {"datum": 106.6, "axis": null}}
    }
  ]
}
